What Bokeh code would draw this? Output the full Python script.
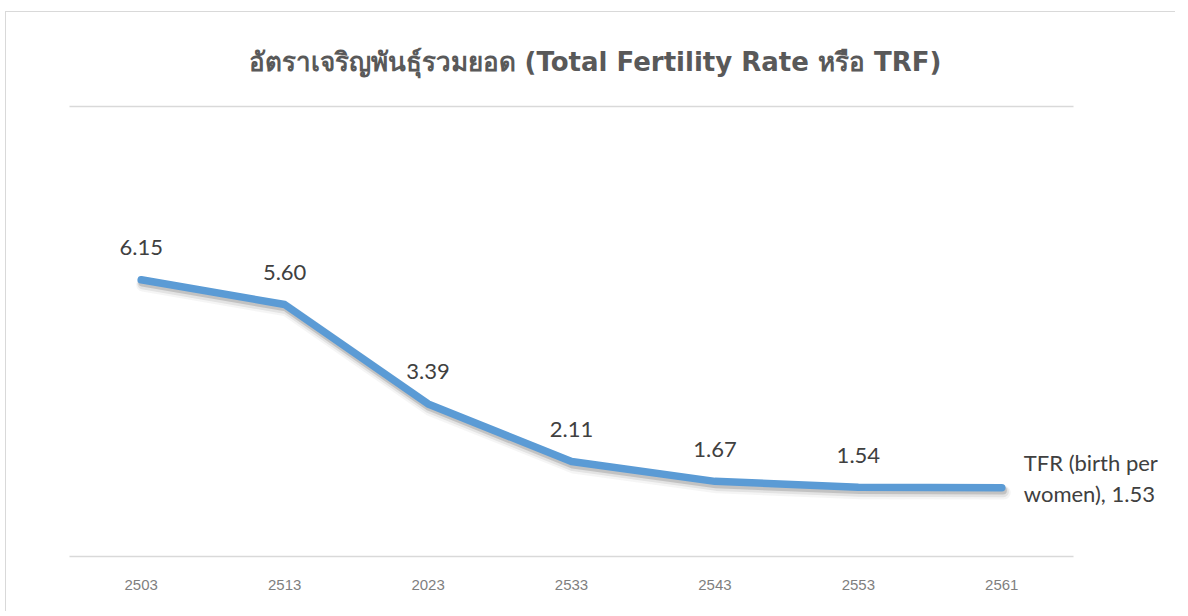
from bokeh.plotting import figure
from bokeh.models import ColumnDataSource, FixedTicker, Range1d, LinearAxis
from bokeh.core.properties import value
from bokeh.embed import file_html
from bokeh.resources import INLINE

years = ["2503", "2513", "2023", "2533", "2543", "2553", "2561"]
tfr = [6.15, 5.60, 3.39, 2.11, 1.67, 1.54, 1.53]
labels = ["6.15", "5.60", "3.39", "2.11", "1.67", "1.54", ""]
last_label = ["TFR (birth per\nwomen), 1.53"]
title_text = "อัตราเจริญพันธุ์รวมยอด (Total Fertility Rate หรือ TRF)"

xs = list(range(len(years)))
src = ColumnDataSource(dict(x=xs, y=tfr, lab=labels))
last_src = ColumnDataSource(dict(x=[xs[-1]], y=[tfr[-1]], lab=last_label))

n = len(years)
x_end = -0.5 + 1102 / (1004 / n)   # frame extends right so the end label fits

p = figure(width=1170, height=600, x_range=Range1d(-0.5, x_end), y_range=Range1d(0, 10),
           output_backend="svg", toolbar_location=None,
           min_border_left=63, min_border_right=5, min_border_top=94,
           min_border_bottom=56)
p.styles = {"border-left": "1px solid #d9d9d9", "border-top": "1px solid #d9d9d9",
            "margin-left": "5px", "margin-top": "11px"}

p.title.text = title_text
p.title.align = "left"
p.title.offset = 179
p.title.text_font = "DejaVu Sans"
p.title.text_font_size = "26px"
p.title.text_font_style = "bold"
p.title.text_color = "#595959"
p.title.standoff = 60

p.outline_line_color = None
p.background_fill_color = "white"
p.border_fill_color = "white"

p.xgrid.grid_line_color = None
p.ygrid.grid_line_color = None
p.yaxis.visible = False

p.xaxis.ticker = FixedTicker(ticks=xs)
p.xaxis.major_label_overrides = {i: y for i, y in zip(xs, years)}
p.xaxis.bounds = (-0.5, n - 0.5)
p.xaxis.axis_line_color = "#d9d9d9"
p.xaxis.axis_line_width = 1.5
p.xaxis.major_tick_line_color = None
p.xaxis.minor_tick_line_color = None
p.xaxis.major_label_text_font = "Liberation Sans"
p.xaxis.major_label_text_font_size = "15px"
p.xaxis.major_label_text_color = "#7f7f7f"
p.xaxis.major_label_standoff = 17

# top line (chart's upper gridline at 10)
top = LinearAxis(ticker=FixedTicker(ticks=[]), bounds=(-0.5, n - 0.5),
                 axis_line_color="#d9d9d9", axis_line_width=1.5,
                 major_tick_line_color=None, minor_tick_line_color=None,
                 major_label_text_font_size="0px")
p.add_layout(top, "above")

# shadow
for w, a, dy, dx in [(14, 0.05, -0.11, 0.014), (11, 0.10, -0.09, 0.011), (8, 0.20, -0.065, 0.008)]:
    p.line(x=[v + dx for v in xs], y=[v + dy for v in tfr],
           line_color="#404040", line_alpha=a, line_width=w, line_cap="round", line_join="round")

p.line(x="x", y="y", source=src, line_color="#5b9bd5", line_width=7.5,
       line_cap="round", line_join="round")

p.text(x="x", y="y", text="lab", source=src, text_font=value("Lato"), text_font_size="22px",
       text_color="#404040", text_align="center", text_baseline="alphabetic", y_offset=-32)
p.text(x="x", y="y", text="lab", source=last_src, text_font=value("Lato"), text_font_size="22px",
       text_color="#404040", text_align="left", text_baseline="middle", x_offset=22, y_offset=-10,
       text_line_height=1.14)

open("out.html", "w").write(file_html(p, INLINE))
